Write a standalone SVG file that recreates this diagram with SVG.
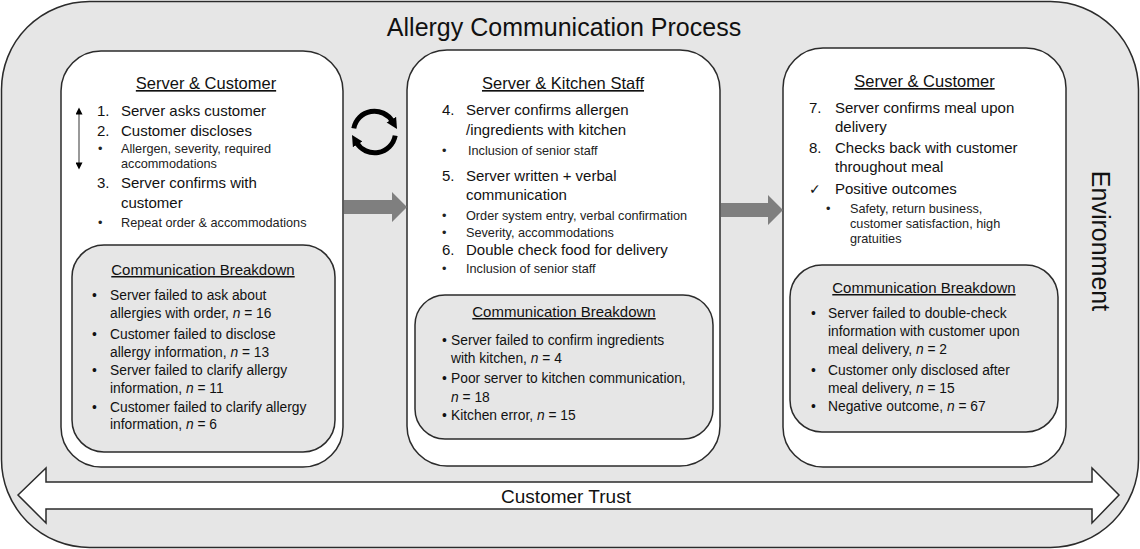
<svg xmlns="http://www.w3.org/2000/svg" width="1140" height="549" viewBox="0 0 1140 549">
<defs>
<style>
text{font-family:"Liberation Sans",Arial,sans-serif;fill:#111}
.title{font-size:25px;text-anchor:middle}
.hdr{font-size:16.5px;text-anchor:middle;text-decoration:underline}
.bhdr{font-size:15px;text-anchor:middle;text-decoration:underline}
.item{font-size:15px}
.sub{font-size:12.7px;fill:#222}
.bd{font-size:13.8px}
.panel{fill:#fff;stroke:#2b2b2b;stroke-width:1.5}
.gray{fill:#e6e6e6;stroke:#2b2b2b;stroke-width:1.5}
.block{fill:#7f7f7f}
.cyc{fill:none;stroke:#000;stroke-width:5}
</style>
<marker id="cyh" viewBox="0 0 10 10" refX="2" refY="5" markerWidth="11" markerHeight="12" markerUnits="userSpaceOnUse" orient="auto"><path d="M0,0 L10,5 L0,10 z" fill="#000"/></marker>
<marker id="vh" viewBox="0 0 10 10" refX="2" refY="5" markerWidth="8" markerHeight="7" markerUnits="userSpaceOnUse" orient="auto-start-reverse"><path d="M0,0 L10,5 L0,10 z" fill="#000"/></marker>
</defs>

<g id="environment">
<rect x="1.5" y="1.5" width="1137" height="546" rx="88" class="gray"/>
<text class="title" x="564" y="36">Allergy Communication Process</text>
<text transform="translate(1092,241) rotate(90)" style="font-size:25px;text-anchor:middle">Environment</text>
</g>

<g id="customer-trust">
<polygon points="18,495 46,468 46,482 1092,482 1092,468 1119,495 1092,523 1092,509 46,509 46,523" fill="#fff" stroke="#2b2b2b" stroke-width="1.5"/>
<text x="566" y="503" style="font-size:19px;text-anchor:middle">Customer Trust</text>
</g>

<g id="panel-server-customer-1">
<rect x="61" y="51" width="282" height="416" rx="40" class="panel"/>
<text class="hdr" x="206" y="89">Server &amp; Customer</text>
<line x1="79" y1="113" x2="79" y2="164" stroke="#777" stroke-width="1.5" marker-start="url(#vh)" marker-end="url(#vh)"/>
<text class="item" x="97" y="116">1.</text><text class="item" x="121" y="116">Server asks customer</text>
<text class="item" x="97" y="136">2.</text><text class="item" x="121" y="136">Customer discloses</text>
<text class="sub" x="98" y="153">•</text><text class="sub" x="121" y="153">Allergen, severity, required</text>
<text class="sub" x="121" y="168">accommodations</text>
<text class="item" x="97" y="188">3.</text><text class="item" x="121" y="188">Server confirms with</text>
<text class="item" x="121" y="208">customer</text>
<text class="sub" x="98" y="227">•</text><text class="sub" x="121" y="227">Repeat order &amp; accommodations</text>
</g>

<g id="breakdown-1">
<rect x="72" y="245" width="263" height="207" rx="32" class="gray"/>
<text class="bhdr" x="203" y="275">Communication Breakdown</text>
<text class="bd" x="92" y="300">•</text><text class="bd" x="110" y="300">Server failed to ask about</text>
<text class="bd" x="110" y="318">allergies with order, <tspan font-style="italic">n</tspan> = 16</text>
<text class="bd" x="92" y="339">•</text><text class="bd" x="110" y="339">Customer failed to disclose</text>
<text class="bd" x="110" y="357">allergy information, <tspan font-style="italic">n</tspan> = 13</text>
<text class="bd" x="92" y="375">•</text><text class="bd" x="110" y="375">Server failed to clarify allergy</text>
<text class="bd" x="110" y="393">information, <tspan font-style="italic">n</tspan> = 11</text>
<text class="bd" x="92" y="412">•</text><text class="bd" x="110" y="412">Customer failed to clarify allergy</text>
<text class="bd" x="110" y="429">information, <tspan font-style="italic">n</tspan> = 6</text>
</g>

<g id="panel-server-kitchen">
<rect x="407" y="50" width="313" height="416" rx="40" class="panel"/>
<text class="hdr" x="563" y="89">Server &amp; Kitchen Staff</text>
<text class="item" x="442" y="115">4.</text><text class="item" x="466" y="115">Server confirms allergen</text>
<text class="item" x="466" y="135">/ingredients with kitchen</text>
<text class="sub" x="442" y="155">•</text><text class="sub" x="468" y="155">Inclusion of senior staff</text>
<text class="item" x="442" y="181">5.</text><text class="item" x="466" y="181">Server written + verbal</text>
<text class="item" x="466" y="200">communication</text>
<text class="sub" x="442" y="220">•</text><text class="sub" x="466" y="220">Order system entry, verbal confirmation</text>
<text class="sub" x="442" y="237">•</text><text class="sub" x="466" y="237">Severity, accommodations</text>
<text class="item" x="442" y="255">6.</text><text class="item" x="466" y="255">Double check food for delivery</text>
<text class="sub" x="442" y="273">•</text><text class="sub" x="466" y="273">Inclusion of senior staff</text>
</g>

<g id="breakdown-2">
<rect x="415" y="295" width="298" height="144" rx="30" class="gray"/>
<text class="bhdr" x="564" y="317">Communication Breakdown</text>
<text class="bd" x="442" y="345">•</text><text class="bd" x="451" y="345">Server failed to confirm ingredients</text>
<text class="bd" x="451" y="363">with kitchen, <tspan font-style="italic">n</tspan> = 4</text>
<text class="bd" x="442" y="383">•</text><text class="bd" x="451" y="383">Poor server to kitchen communication,</text>
<text class="bd" x="451" y="402"><tspan font-style="italic">n</tspan> = 18</text>
<text class="bd" x="442" y="420">•</text><text class="bd" x="451" y="420">Kitchen error, <tspan font-style="italic">n</tspan> = 15</text>
</g>

<g id="panel-server-customer-2">
<rect x="783" y="48" width="283" height="419" rx="40" class="panel"/>
<text class="hdr" x="924.5" y="87">Server &amp; Customer</text>
<text class="item" x="809" y="113">7.</text><text class="item" x="835" y="113">Server confirms meal upon</text>
<text class="item" x="835" y="132">delivery</text>
<text class="item" x="809" y="153">8.</text><text class="item" x="835" y="153">Checks back with customer</text>
<text class="item" x="835" y="172">throughout meal</text>
<text x="809" y="194" style="font-family:'DejaVu Sans',sans-serif;font-size:14px">✓</text><text class="item" x="835" y="194">Positive outcomes</text>
<text class="sub" x="826" y="213">•</text><text class="sub" x="850" y="213">Safety, return business,</text>
<text class="sub" x="850" y="228">customer satisfaction, high</text>
<text class="sub" x="850" y="243">gratuities</text>
</g>

<g id="breakdown-3">
<rect x="790" y="265" width="268" height="167" rx="32" class="gray"/>
<text class="bhdr" x="924" y="293">Communication Breakdown</text>
<text class="bd" x="811" y="318">•</text><text class="bd" x="828" y="318">Server failed to double-check</text>
<text class="bd" x="828" y="336">information with customer upon</text>
<text class="bd" x="828" y="354">meal delivery, <tspan font-style="italic">n</tspan> = 2</text>
<text class="bd" x="811" y="375">•</text><text class="bd" x="828" y="375">Customer only disclosed after</text>
<text class="bd" x="828" y="393">meal delivery, <tspan font-style="italic">n</tspan> = 15</text>
<text class="bd" x="811" y="411">•</text><text class="bd" x="828" y="411">Negative outcome, <tspan font-style="italic">n</tspan> = 67</text>
</g>

<g id="connectors">
<path class="cyc" d="M353.8,128.4 A21,21 0 0 1 392.5,121.5" marker-end="url(#cyh)"/>
<path class="cyc" d="M395.2,135.6 A21,21 0 0 1 356.5,142.5" marker-end="url(#cyh)"/>
<polygon class="block" points="344,200 392,200 392,192 407,207 392,222 392,214 344,214"/>
<polygon class="block" points="721,203 768,203 768,195 783,210 768,225 768,217 721,217"/>
</g>
</svg>
